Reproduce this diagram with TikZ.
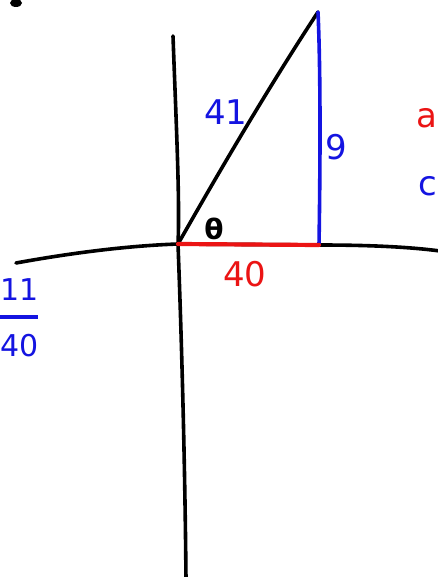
\documentclass[tikz,border=0pt]{standalone}
\usepackage{fontspec}
\setmainfont{DejaVu Sans}
\definecolor{inkblue}{RGB}{20,20,225}
\definecolor{inkred}{RGB}{235,20,20}
\tikzset{
  ink/.style={line width=3.6pt, line cap=round, line join=round},
  lbl/.style={inner sep=0pt, font=\fontsize{34}{36}\selectfont},
}
\begin{document}
\begin{tikzpicture}[x=1pt,y=-1pt]
\useasboundingbox (0,0) rectangle (438,577);
\clip (0,0) rectangle (438,577);
\fill[white] (0,0) rectangle (438,577);
% corner fragment
\fill[black] (16,3) ellipse (6 and 4);
% axes
\coordinate (O) at (178,244);
\coordinate (T) at (318,12);
\coordinate (R) at (319,245);
\draw[ink] (173,36) .. controls (176,120) and (180,200) .. (O)
  .. controls (182,350) and (185,470) .. (186,580);
\draw[ink] (16,263) .. controls (60,255) and (120,246) .. (O)
  -- (R) .. controls (370,245) and (410,247) .. (440,251);
% triangle
\draw[ink] (O) .. controls (220,170) and (270,85) .. (T);
\draw[ink, inkblue] (T) .. controls (321,80) and (320,180) .. (R);
\draw[ink, inkred, line width=4.2pt] (O) -- (R);
% labels
\node[lbl, inkblue] (hyp) at (226,112) {41};
\node[lbl, inkblue] (opp) at (336,147) {9};
\node[lbl, inkred] (adj) at (245,274) {40};
\node[lbl, font=\fontsize{28}{28}\selectfont\bfseries] (th) at (214,229) {θ};
\node[lbl, inkblue, anchor=west] (a2) at (418,186) {c};
\node[lbl, inkred, anchor=west] (a1) at (416,118) {a};
% fraction
\node[lbl, inkblue, anchor=west, font=\fontsize{30}{30}\selectfont] (num) at (0,290) {11};
\node[lbl, inkblue, anchor=west, font=\fontsize{30}{30}\selectfont] (den) at (0,346) {40};
\draw[inkblue, line width=3.4pt] (-5,317) -- (38,317);
\end{tikzpicture}
\end{document}
